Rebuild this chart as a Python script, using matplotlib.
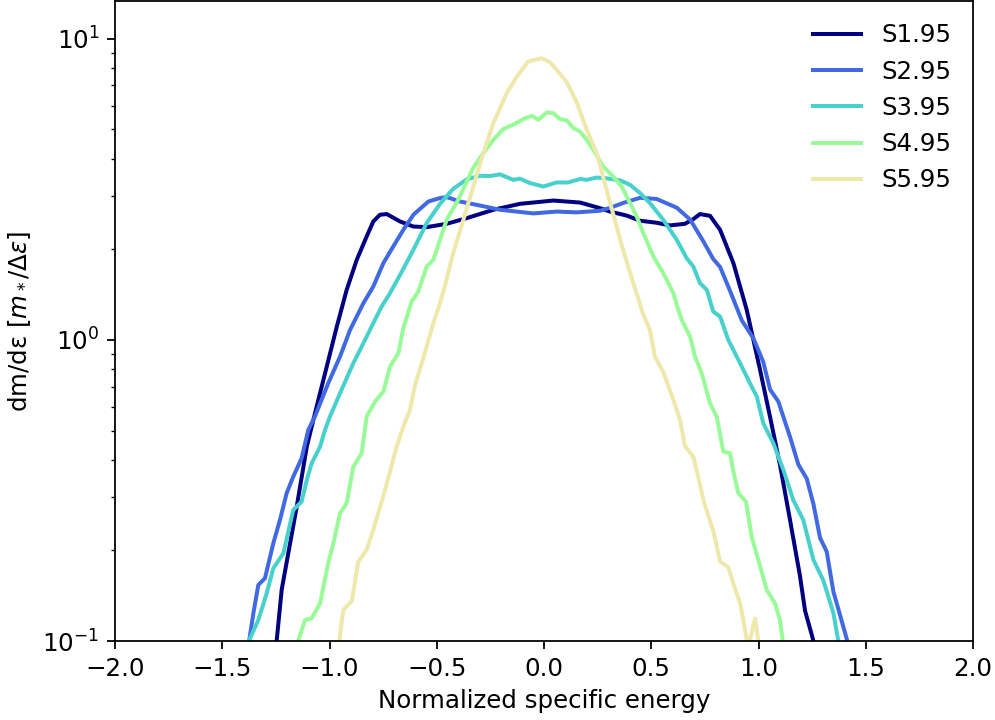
import matplotlib
matplotlib.use("Agg")
import matplotlib.pyplot as plt

labels = ["S1.95", "S2.95", "S3.95", "S4.95", "S5.95"]
colors = ["navy", "royalblue", "mediumturquoise", "palegreen", "palegoldenrod"]

x1 = [-1.27, -1.246, -1.223, -1.192, -1.153, -1.106, -1.060, -1.013, -0.966, -0.920, -0.873, -0.827,
      -0.796, -0.765, -0.733, -0.671, -0.609, -0.547, -0.454, -0.360, -0.236, -0.112, 0.043, 0.168,
      0.261, 0.308, 0.386, 0.448, 0.525, 0.587, 0.657, 0.696, 0.727, 0.774, 0.821, 0.883, 0.945,
      1.007, 1.054, 1.100, 1.147, 1.193, 1.217, 1.248, 1.256, 1.27]
y1 = [0.08, 0.1008, 0.148, 0.196, 0.279, 0.442, 0.600, 0.815, 1.107, 1.466, 1.845, 2.204,
      2.472, 2.603, 2.617, 2.472, 2.379, 2.368, 2.429, 2.537, 2.704, 2.830, 2.902, 2.858,
      2.738, 2.667, 2.586, 2.487, 2.449, 2.399, 2.429, 2.518, 2.617, 2.582, 2.319, 1.798, 1.258,
      0.796, 0.554, 0.385, 0.252, 0.165, 0.126, 0.105, 0.100, 0.08]

x2 = [-1.39, -1.374, -1.355, -1.332, -1.301, -1.262, -1.231, -1.200, -1.169, -1.130, -1.099, -1.068,
      -1.006, -0.951, -0.904, -0.842, -0.796, -0.749, -0.703, -0.656, -0.609, -0.539, -0.485,
      -0.454, -0.392, -0.314, -0.205, -0.050, 0.059, 0.152, 0.261, 0.308, 0.370, 0.448, 0.525,
      0.619, 0.681, 0.743, 0.789, 0.821, 0.867, 0.922, 0.976, 1.022, 1.054, 1.092, 1.147, 1.186,
      1.225, 1.256, 1.287, 1.318, 1.349, 1.380, 1.414, 1.43]
y2 = [0.085, 0.1008, 0.1236, 0.1535, 0.1616, 0.2112, 0.2523, 0.3095, 0.3515, 0.4046, 0.5023, 0.5563,
      0.7181, 0.880, 1.080, 1.324, 1.503, 1.798, 2.042, 2.319, 2.603, 2.881, 2.957,
      2.980, 2.881, 2.808, 2.704, 2.630, 2.667, 2.651, 2.684, 2.745, 2.850, 2.964, 2.937,
      2.747, 2.510, 2.124, 1.855, 1.746, 1.456, 1.161, 1.013, 0.845, 0.684, 0.625, 0.476, 0.385,
      0.346, 0.285, 0.220, 0.198, 0.146, 0.122, 0.100, 0.085]

x3 = [-1.39, -1.374, -1.332, -1.293, -1.262, -1.215, -1.169, -1.130, -1.106, -1.083, -1.044, -1.021,
      -0.998, -0.951, -0.889, -0.842, -0.796, -0.757, -0.718, -0.671, -0.609, -0.547, -0.485,
      -0.423, -0.360, -0.298, -0.252, -0.205, -0.143, -0.112, -0.065, -0.003, 0.059, 0.113,
      0.168, 0.199, 0.246, 0.292, 0.354, 0.401, 0.448, 0.494, 0.556, 0.619, 0.665, 0.696, 0.727,
      0.759, 0.789, 0.821, 0.859, 0.914, 0.960, 0.992, 1.022, 1.069, 1.116, 1.162, 1.209, 1.256,
      1.302, 1.349, 1.372, 1.39]
y3 = [0.085, 0.1008, 0.1174, 0.144, 0.1744, 0.1956, 0.2724, 0.2904, 0.3427, 0.3894, 0.4421, 0.5023,
      0.5563, 0.6651, 0.8368, 0.975, 1.136, 1.290, 1.430, 1.644, 1.991, 2.442, 2.830,
      3.175, 3.413, 3.506, 3.500, 3.544, 3.400, 3.430, 3.316, 3.230, 3.332, 3.332,
      3.421, 3.400, 3.460, 3.440, 3.388, 3.273, 3.072, 2.846, 2.504, 2.148, 1.868, 1.752, 1.543,
      1.466, 1.242, 1.195, 1.000, 0.837, 0.718, 0.648, 0.529, 0.454, 0.370, 0.294, 0.252, 0.186,
      0.159, 0.124, 0.100, 0.085]

x4 = [-1.16, -1.145, -1.114, -1.083, -1.044, -1.006, -0.982, -0.951, -0.920, -0.889, -0.850, -0.827,
      -0.788, -0.749, -0.718, -0.679, -0.656, -0.617, -0.586, -0.547, -0.516, -0.477, -0.454,
      -0.400, -0.360, -0.330, -0.283, -0.236, -0.190, -0.135, -0.097, -0.057, -0.027, 0.013,
      0.043, 0.075, 0.106, 0.137, 0.168, 0.199, 0.230, 0.276, 0.323, 0.362, 0.401, 0.432, 0.463,
      0.510, 0.556, 0.603, 0.626, 0.642, 0.681, 0.704, 0.735, 0.774, 0.805, 0.836, 0.867, 0.883,
      0.906, 0.942, 0.968, 0.999, 1.038, 1.077, 1.100, 1.113, 1.125]
y4 = [0.085, 0.1008, 0.1174, 0.119, 0.1334, 0.1812, 0.2112, 0.2657, 0.2868, 0.3794, 0.4204, 0.5563,
      0.6237, 0.6733, 0.815, 0.903, 1.094, 1.341, 1.447, 1.752, 1.845, 2.233, 2.504,
      2.918, 3.357, 3.727, 4.172, 4.618, 5.012, 5.220, 5.410, 5.550, 5.380, 5.690,
      5.660, 5.410, 5.354, 5.050, 4.920, 4.618, 4.278, 3.764, 3.487, 3.230, 2.846, 2.570, 2.262,
      1.892, 1.666, 1.430, 1.258, 1.165, 1.026, 0.880, 0.775, 0.616, 0.556, 0.4255, 0.4204, 0.365,
      0.3095, 0.290, 0.222, 0.186, 0.148, 0.1334, 0.1174, 0.100, 0.085]

x5 = [-0.965, -0.954, -0.936, -0.896, -0.866, -0.827, -0.796, -0.741, -0.687, -0.656, -0.625, -0.601,
      -0.563, -0.516, -0.485, -0.462, -0.423, -0.376, -0.330, -0.283, -0.236, -0.174, -0.127,
      -0.073, -0.011, 0.028, 0.059, 0.106, 0.152, 0.199, 0.246, 0.308, 0.370, 0.416, 0.463,
      0.494, 0.517, 0.556, 0.603, 0.634, 0.657, 0.696, 0.719, 0.743, 0.789, 0.821, 0.859, 0.886,
      0.914, 0.929, 0.952, 0.984, 0.999, 1.01]
y5 = [0.085, 0.1008, 0.1268, 0.1358, 0.1834, 0.2006, 0.2338, 0.3174, 0.4421, 0.5152, 0.5854, 0.7089,
      0.8694, 1.136, 1.324, 1.511, 1.945, 2.504, 3.230, 4.172, 5.248, 6.600, 7.480,
      8.410, 8.620, 8.350, 7.890, 7.170, 6.170, 4.985, 4.165, 2.852, 1.971, 1.547, 1.214,
      1.076, 0.880, 0.783, 0.632, 0.5424, 0.4444, 0.409, 0.3507, 0.294, 0.232, 0.1834, 0.176, 0.1523,
      0.1337, 0.1174, 0.095, 0.1188, 0.100, 0.085]

xs = [x1, x2, x3, x4, x5]
ys = [y1, y2, y3, y4, y5]

plt.rcParams["font.size"] = 11
fig = plt.figure(figsize=(995 / 160, 720 / 160), dpi=160)
ax = fig.add_axes([0.1156, 0.1097, 0.9779 - 0.1156, 0.998 - 0.1097])
for x, y, c, lab in zip(xs, ys, colors, labels):
    ax.plot(x, y, color=c, lw=1.8, label=lab)
ax.set_yscale("log")
ax.set_xlim(-2, 2)
ax.set_ylim(0.1, 13.3)
ax.set_xlabel("Normalized specific energy")
ax.set_ylabel(r"dm/dε [$m_*/\Delta\varepsilon$]")
ax.legend(loc="upper right", frameon=False)
fig.savefig("out.png", dpi=160)
